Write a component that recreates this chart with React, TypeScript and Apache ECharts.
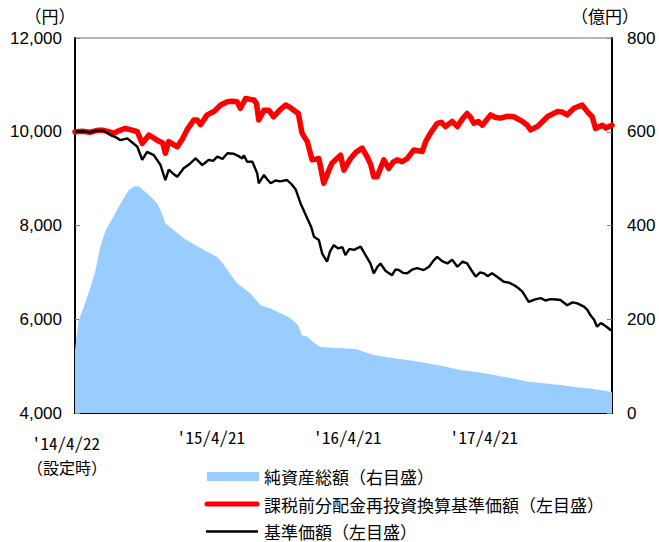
import React, { useEffect, useRef } from "react";
import * as echarts from "echarts";

// x = days since 2014/4/22 (設定日)
const xMaxDay = 1438;
const xTickDays = [364, 730, 1095];
const xTickLabels = ["'15/4/21", "'16/4/21", "'17/4/21"];
const firstDateLabel = "'14/4/22";
const firstDateNote = "（設定時）";

const leftMin = 4000;
const leftMax = 12000;
const leftStep = 2000;
const rightMin = 0;
const rightMax = 800;
const rightStep = 200;

const leftUnit = "（円）";
const rightUnit = "（億円）";

const seriesNames = [
  "純資産総額（右目盛）",
  "課税前分配金再投資換算基準価額（左目盛）",
  "基準価額（左目盛）",
];

// 基準価額 (円)
const navPoints: [number, number][] = [
  [0, 10000], [20, 10010], [40, 9990], [60, 10030], [77, 10020], [95, 9930], [110, 9880],
  [122, 9820], [140, 9860], [155, 9760], [167, 9680], [180, 9400], [193, 9570], [211, 9500],
  [229, 9290], [242, 8970], [251, 9190], [262, 9110], [274, 9040], [291, 9220], [305, 9300],
  [323, 9430], [341, 9290], [358, 9400], [370, 9380], [381, 9470], [395, 9420], [408, 9540],
  [425, 9530], [438, 9480], [448, 9430], [452, 9500], [461, 9360], [475, 9360], [488, 9110],
  [492, 8900], [506, 9080], [515, 8980], [524, 8900], [537, 8960], [550, 8940], [568, 8970],
  [580, 8880], [591, 8770], [604, 8470], [612, 8330], [622, 8150], [632, 7980], [640, 7760],
  [653, 7690], [662, 7400], [675, 7230], [683, 7450], [693, 7580], [705, 7510], [716, 7540],
  [724, 7370], [735, 7500], [747, 7480], [765, 7550], [778, 7370], [791, 7190], [800, 6980],
  [810, 7120], [818, 7190], [832, 7030], [849, 6940], [858, 7060], [867, 7050], [878, 6990],
  [890, 6980], [903, 7060], [916, 7090], [934, 7050], [948, 7120], [960, 7250], [970, 7330],
  [983, 7240], [997, 7190], [1010, 7270], [1024, 7120], [1038, 7230], [1050, 7190], [1062, 7040],
  [1073, 6910], [1085, 7000], [1095, 6980], [1105, 6920], [1117, 6980], [1133, 6890], [1148, 6800],
  [1162, 6780], [1175, 6730], [1188, 6660], [1198, 6590], [1215, 6370], [1230, 6420], [1247, 6450],
  [1260, 6400], [1273, 6430], [1288, 6420], [1300, 6410], [1318, 6300], [1332, 6360], [1345, 6340],
  [1363, 6270], [1372, 6200], [1380, 6090], [1390, 5990], [1398, 5840], [1408, 5920], [1416, 5880],
  [1425, 5830], [1434, 5770], [1438, 5780],
];

// 課税前分配金再投資換算基準価額 (円)
const reinvPoints: [number, number][] = [
  [0, 10000], [20, 10010], [40, 9990], [60, 10030], [76, 10030], [90, 10000], [104, 9970],
  [120, 10030], [135, 10070], [150, 10040], [167, 10000], [180, 9750], [198, 9930], [220, 9820],
  [235, 9760], [242, 9540], [251, 9790], [263, 9730], [274, 9680], [288, 9850], [300, 10040],
  [318, 10250], [327, 10250], [336, 10150], [354, 10360], [372, 10430], [390, 10570], [408, 10640],
  [420, 10650], [434, 10640], [443, 10500], [457, 10710], [470, 10690], [479, 10680], [486, 10600],
  [492, 10250], [506, 10460], [519, 10460], [532, 10320], [548, 10460], [564, 10570], [576, 10520],
  [586, 10460], [598, 10390], [608, 9970], [622, 9790], [635, 9400], [653, 9430], [660, 9150],
  [666, 8900], [675, 9080], [688, 9330], [700, 9420], [711, 9500], [720, 9180], [738, 9430],
  [752, 9560], [769, 9650], [782, 9470], [792, 9300], [800, 9040], [809, 9040], [827, 9400],
  [840, 9220], [852, 9350], [863, 9400], [876, 9360], [890, 9430], [907, 9610], [930, 9580],
  [939, 9790], [952, 9970], [970, 10180], [981, 10200], [992, 10110], [1010, 10220], [1024, 10110],
  [1038, 10280], [1050, 10390], [1060, 10300], [1068, 10180], [1080, 10220], [1091, 10140],
  [1113, 10360], [1125, 10310], [1139, 10290], [1157, 10330], [1175, 10320], [1198, 10220],
  [1210, 10150], [1220, 10040], [1238, 10110], [1265, 10320], [1291, 10430], [1305, 10420],
  [1318, 10360], [1336, 10500], [1358, 10570], [1372, 10430], [1385, 10320], [1394, 10070],
  [1412, 10140], [1422, 10080], [1430, 10110], [1438, 10140],
];

// 純資産総額 (億円)
const assetPoints: [number, number][] = [
  [0, 135], [4, 160], [10, 198], [24, 227], [42, 269], [55, 305], [68, 355], [82, 390],
  [100, 415], [122, 447], [144, 476], [160, 484], [171, 484], [185, 474], [198, 465],
  [220, 447], [233, 425], [242, 405], [265, 390], [291, 373], [323, 358], [354, 344],
  [381, 333], [395, 320], [408, 305], [434, 277], [470, 255], [497, 230], [524, 223],
  [550, 213], [575, 203], [586, 196], [597, 188], [608, 166], [622, 163], [640, 150],
  [657, 141], [690, 139], [720, 138], [756, 136], [775, 130], [800, 124], [854, 117],
  [900, 112], [943, 106], [990, 99], [1032, 92], [1080, 87], [1122, 81], [1170, 74],
  [1211, 67], [1260, 63], [1300, 60], [1345, 55], [1389, 51], [1438, 45],
];

const jpFont = "Noto Sans CJK JP";
const dateFont = "Noto Sans CJK JP, monospace";
const numFont = "Liberation Sans";

const pageCss = `
svg text { text-spacing-trim: space-all; font-feature-settings: "chws" 0, "halt" 0, "palt" 0; }
svg text[style*="monospace"], svg text[font-family*="monospace"] { font-feature-settings: "hwid" 1, "chws" 0; }
`;

function withComma(v: number): string {
  return String(v).replace(/\B(?=(\d{3})+(?!\d))/g, ",");
}

export default function App() {
  const ref = useRef<HTMLDivElement>(null);

  useEffect(() => {
    if (!ref.current) return;
    const chart = echarts.init(ref.current, undefined, { renderer: "svg" });

    const textStyle = (text: string, x: number, y: number, font: string, size: number, align: string) => ({
      type: "text",
      x,
      y,
      silent: true,
      style: {
        text,
        fill: "#000",
        fontSize: size,
        fontFamily: font,
        textAlign: align,
        align,
        textVerticalAlign: "middle",
        verticalAlign: "middle",
      },
    });

    chart.setOption({
      animation: false,
      backgroundColor: "#fff",
      grid: {
        left: 75,
        right: 47,
        top: 38,
        bottom: 129,
        show: true,
        borderColor: "#707070",
        borderWidth: 1,
        backgroundColor: "transparent",
      },
      xAxis: {
        type: "value",
        min: 0,
        max: xMaxDay,
        splitLine: { show: false },
        axisLine: { show: true, onZero: false, lineStyle: { color: "#000", width: 2 } },
        axisTick: {
          show: true,
          inside: true,
          length: 6,
          customValues: xTickDays,
          lineStyle: { color: "#808080", width: 1 },
        },
        axisLabel: {
          show: true,
          customValues: xTickDays,
          margin: 15,
          fontSize: 17,
          fontFamily: dateFont,
          color: "#000",
          formatter: (v: number) => {
            const i = xTickDays.indexOf(Math.round(v));
            return i >= 0 ? xTickLabels[i] : "";
          },
        },
      },
      yAxis: [
        {
          type: "value",
          position: "left",
          min: leftMin,
          max: leftMax,
          interval: leftStep,
          splitLine: { show: false },
          axisLine: { show: true, lineStyle: { color: "#000", width: 2 } },
          axisTick: { show: true, inside: true, length: 5, lineStyle: { color: "#808080" } },
          axisLabel: {
            margin: 13,
            fontSize: 17,
            fontFamily: numFont,
            color: "#000",
            padding: [4, 0, 0, 0],
            formatter: (v: number) => withComma(v),
          },
        },
        {
          type: "value",
          position: "right",
          min: rightMin,
          max: rightMax,
          interval: rightStep,
          splitLine: { show: false },
          axisLine: { show: true, lineStyle: { color: "#000", width: 2 } },
          axisTick: { show: true, inside: true, length: 5, lineStyle: { color: "#808080" } },
          axisLabel: {
            margin: 15,
            fontSize: 17,
            fontFamily: numFont,
            color: "#000",
            padding: [4, 0, 0, 0],
          },
        },
      ],
      series: [
        {
          name: seriesNames[0],
          type: "line",
          yAxisIndex: 1,
          data: assetPoints,
          symbol: "none",
          lineStyle: { width: 0 },
          itemStyle: { color: "#99CCFF" },
          areaStyle: { color: "#99CCFF", opacity: 1 },
          z: 1,
        },
        {
          name: seriesNames[1],
          type: "line",
          yAxisIndex: 0,
          data: reinvPoints,
          symbol: "none",
          lineStyle: { width: 5.5, color: "#FF0000", join: "round", cap: "round" },
          itemStyle: { color: "#FF0000" },
          z: 2,
        },
        {
          name: seriesNames[2],
          type: "line",
          yAxisIndex: 0,
          data: navPoints,
          symbol: "none",
          lineStyle: { width: 2.4, color: "#000" },
          itemStyle: { color: "#000" },
          z: 3,
        },
      ],
      graphic: [
        textStyle(leftUnit, 50, 15, jpFont, 17, "center"),
        textStyle(rightUnit, 605, 15, jpFont, 17, "center"),
        textStyle(firstDateLabel, 66, 442, dateFont, 17, "center"),
        textStyle(firstDateNote, 67, 467, jpFont, 16, "center"),
        {
          type: "rect",
          silent: true,
          shape: { x: 207, y: 472, width: 52, height: 9 },
          style: { fill: "#99CCFF" },
        },
        {
          type: "line",
          silent: true,
          shape: { x1: 207, y1: 504, x2: 257, y2: 504 },
          style: { stroke: "#FF0000", lineWidth: 5, lineCap: "round" },
        },
        {
          type: "line",
          silent: true,
          shape: { x1: 206, y1: 531.5, x2: 258, y2: 531.5 },
          style: { stroke: "#000", lineWidth: 2.5 },
        },
        textStyle(seriesNames[0], 264, 476, jpFont, 17, "left"),
        textStyle(seriesNames[1], 264, 504, jpFont, 17, "left"),
        textStyle(seriesNames[2], 264, 531, jpFont, 17, "left"),
      ],
    });

    return () => chart.dispose();
  }, []);

  return (
    <>
      <style>{pageCss}</style>
      <div
        ref={ref}
        style={{ position: "absolute", left: 0, top: 0, width: 659, height: 542 }}
      />
    </>
  );
}
